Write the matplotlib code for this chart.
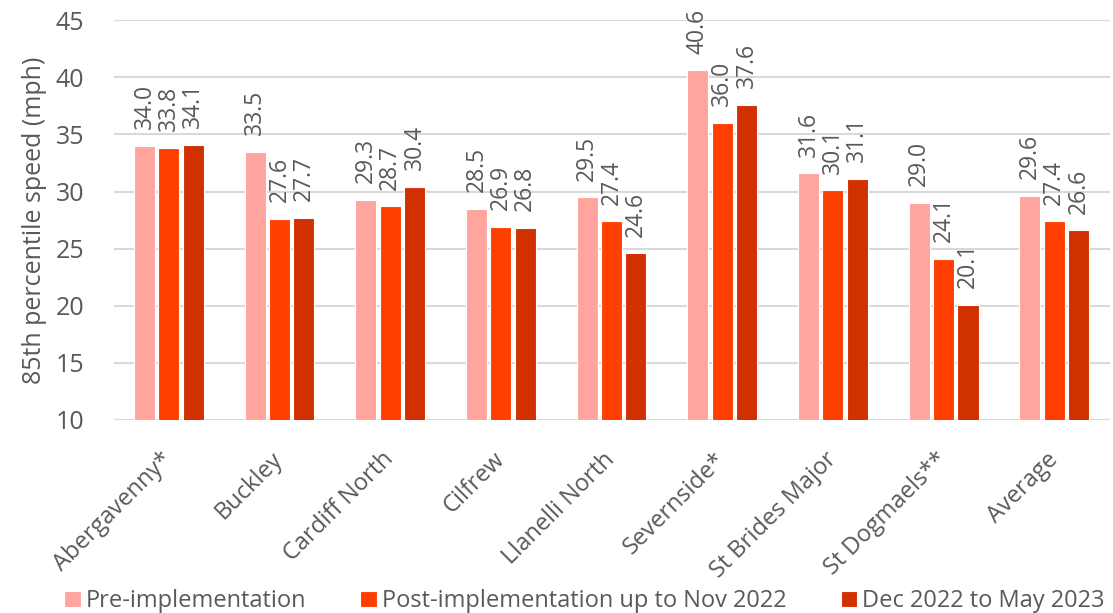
import numpy as np
import matplotlib
matplotlib.use('Agg')
import matplotlib.pyplot as plt

sites = ["Abergavenny*", "Buckley", "Cardiff North", "Cilfrew", "Llanelli North",
         "Severnside*", "St Brides Major", "St Dogmaels**", "Average"]
pre = [34.0, 33.5, 29.3, 28.5, 29.5, 40.6, 31.6, 29.0, 29.6]
post_nov22 = [33.8, 27.6, 28.7, 26.9, 27.4, 36.0, 30.1, 24.1, 27.4]
dec22_may23 = [34.1, 27.7, 30.4, 26.8, 24.6, 37.6, 31.1, 20.1, 26.6]
series_names = ["Pre-implementation", "Post-implementation up to Nov 2022",
                "Dec 2022 to May 2023"]

colors = ["#FFA59E", "#FF3F00", "#D13000"]
grey = "#595959"

plt.rcParams['font.family'] = ['Open Sans', 'DejaVu Sans']

fig = plt.figure(figsize=(11.13, 6.13), dpi=100)
ax = fig.add_axes([0.102, 0.315, 0.895, 0.652])

x = np.arange(len(sites))
step = 0.22
width = 0.19
for i, vals in enumerate([pre, post_nov22, dec22_may23]):
    bars = ax.bar(x + (i - 1) * step, vals, width, bottom=0, color=colors[i],
                  edgecolor="white", linewidth=0.8, label=series_names[i], zorder=3)
    for b, v in zip(bars, vals):
        ax.annotate(f"{v:.1f}", (b.get_x() + b.get_width() / 2, v),
                    xytext=(0, 12), textcoords="offset points",
                    rotation=90, ha="center", va="bottom",
                    fontsize=16.5, color=grey)

ax.set_ylim(10, 45)
ax.set_xlim(-0.5, len(sites) - 0.5)
ax.set_yticks(np.arange(10, 46, 5))
ax.grid(axis="y", color="#D9D9D9", linewidth=1.5, zorder=0)
for s in ax.spines.values():
    s.set_visible(False)
ax.tick_params(axis="y", length=0, labelsize=18, colors=grey, pad=21)
ax.tick_params(axis="x", length=0, labelsize=17, colors=grey, pad=26)
ax.set_xticks(x)
ax.set_xticklabels(sites, rotation=45, ha="right", va="center",
                   rotation_mode="anchor")
ax.set_ylabel("85th percentile speed (mph)", fontsize=18, color=grey, labelpad=6)

fig.legend(loc="lower center", bbox_to_anchor=(0.525, -0.035), ncol=3, frameon=False,
           fontsize=17, handlelength=0.7, handleheight=0.7, handletextpad=0.2,
           columnspacing=2.3, labelcolor=grey)

fig.savefig("out.png", dpi=100)
